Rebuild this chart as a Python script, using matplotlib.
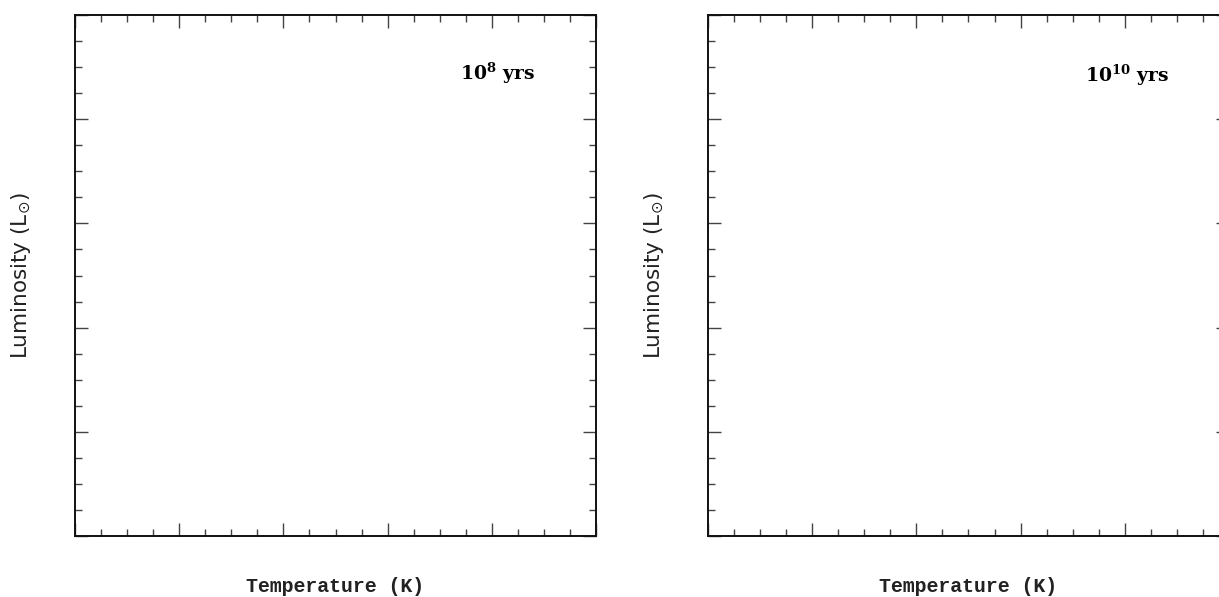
import matplotlib.pyplot as plt
from matplotlib.ticker import MultipleLocator, AutoMinorLocator

plt.rcParams['mathtext.fontset'] = 'custom'
plt.rcParams['mathtext.bf'] = 'DejaVu Serif:bold'
plt.rcParams['mathtext.rm'] = 'DejaVu Sans'

# Paneles: edad de cada diagrama HR (vacíos)
ages = [r'$\mathbf{10^{8}}$ yrs', r'$\mathbf{10^{10}}$ yrs']
x_range = [0, 5]
y_range = [0, 5]
x_label = 'Temperature (K)'
y_label = r'Luminosity (L$_{\odot}$)'

W, H = 1219, 597
fig = plt.figure(figsize=(W / 100, H / 100), dpi=100)

# posiciones en pixeles (izq, arriba) de cada panel
panel_px = [(75, 15), (708, 15)]
size_px = 521
text_pos = [(0.739, 0.887), (0.724, 0.885)]
ylabel_x = [21, 654]

for i, (px, py) in enumerate(panel_px):
    ax = fig.add_axes([px / W, 1 - (py + size_px) / H, size_px / W, size_px / H])
    ax.set_xlim(x_range)
    ax.set_ylim(y_range)
    ax.xaxis.set_major_locator(MultipleLocator(1))
    ax.yaxis.set_major_locator(MultipleLocator(1))
    ax.xaxis.set_minor_locator(AutoMinorLocator(4))
    ax.yaxis.set_minor_locator(AutoMinorLocator(4))
    ax.tick_params(which='both', direction='in', top=True, right=True,
                   labelbottom=False, labelleft=False, color='#444444', width=1.0)
    ax.tick_params(which='major', length=9.5)
    ax.tick_params(which='minor', length=5)
    for sp in ax.spines.values():
        sp.set_linewidth(1.4)
        sp.set_color('#111111')

    ax.text(text_pos[i][0], text_pos[i][1], ages[i], transform=ax.transAxes,
            ha='left', va='center', fontsize=13.5, family='DejaVu Serif', fontweight='bold')

    # etiquetas de ejes
    cx = (px + size_px / 2) / W
    fig.text(cx, 1 - 587 / H, x_label, ha='center', va='center',
             fontsize=14.3, family='Liberation Mono', fontweight='bold', color='#222222')
    fig.text(ylabel_x[i] / W, 1 - (py + size_px / 2) / H, y_label, rotation=90,
             ha='center', va='center', fontsize=15.5, family='DejaVu Sans', color='#222222')

fig.savefig('out.png', dpi=100)
